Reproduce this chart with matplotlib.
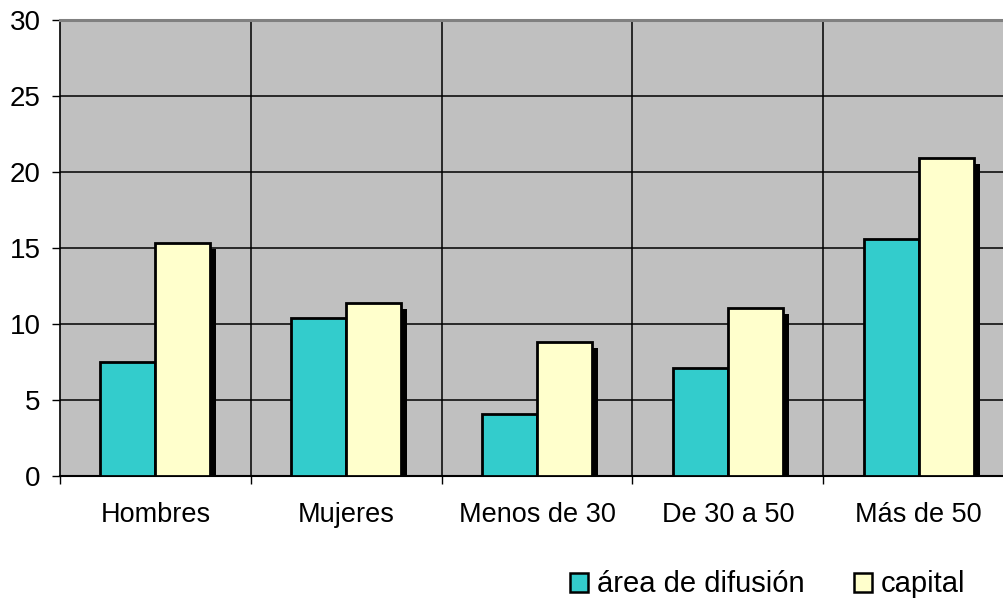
import matplotlib
matplotlib.use("Agg")
import matplotlib.pyplot as plt
import matplotlib.patheffects as pe
import numpy as np

categories = ["Hombres", "Mujeres", "Menos de 30", "De 30 a 50", "Más de 50"]
area_difusion = [7.5, 10.4, 4.1, 7.1, 15.6]
capital = [15.3, 11.4, 8.8, 11.05, 20.9]
series_names = ["área de difusión", "capital"]
y_ticks = [0, 5, 10, 15, 20, 25, 30]

plt.rcParams['font.family'] = ['Liberation Sans', 'DejaVu Sans']

fig = plt.figure(figsize=(10.04, 6.03), dpi=100)
ax = fig.add_axes([60/1004, (603-476)/603, 954/1004, (476-20)/603])
ax.set_facecolor('#C0C0C0')

x = np.arange(len(categories))
w = 55/191
shadow = [pe.SimplePatchShadow(offset=(4.3, -4.3), shadow_rgbFace='black', alpha=1.0), pe.Normal()]
ax.bar(x - w/2, area_difusion, width=w, color='#33CCCC', edgecolor='black', linewidth=2.0,
       label=series_names[0], zorder=3, path_effects=shadow)
ax.bar(x + w/2, capital, width=w, color='#FFFFCC', edgecolor='black', linewidth=2.0,
       label=series_names[1], zorder=4, path_effects=shadow)

ax.set_xlim(-0.5, len(categories) - 0.5)
ax.set_ylim(0, 30)
ax.set_yticks(y_ticks)
ax.set_xticks(x)
ax.set_xticklabels(categories)
ax.set_xticks(np.arange(len(categories) + 1) - 0.5, minor=True)
ax.tick_params(axis='x', which='major', length=0, pad=19, labelsize=19.5)
ax.tick_params(axis='x', which='minor', length=6, width=1, direction='out')
ax.tick_params(axis='y', length=6, width=1, direction='out', pad=8, labelsize=20)

for yv in y_ticks[1:-1]:
    ax.axhline(yv, color='black', linewidth=1.1, zorder=1)
for xv in np.arange(1, len(categories)) - 0.5:
    ax.axvline(xv, color='black', linewidth=1.1, zorder=1)

ax.spines['top'].set_color('#808080')
ax.spines['top'].set_linewidth(2.2)
ax.spines['right'].set_visible(False)
ax.spines['left'].set_linewidth(1.2)
ax.spines['bottom'].set_linewidth(1.5)

leg = fig.legend(loc='lower right', bbox_to_anchor=(0.988, -0.036), ncol=2, frameon=False,
                 fontsize=21, handlelength=0.62, handleheight=0.62, handletextpad=0.3,
                 columnspacing=1.7)
for h in leg.legend_handles:
    h.set_path_effects([])
    h.set_linewidth(1.8)

fig.savefig("out.png", dpi=100)
